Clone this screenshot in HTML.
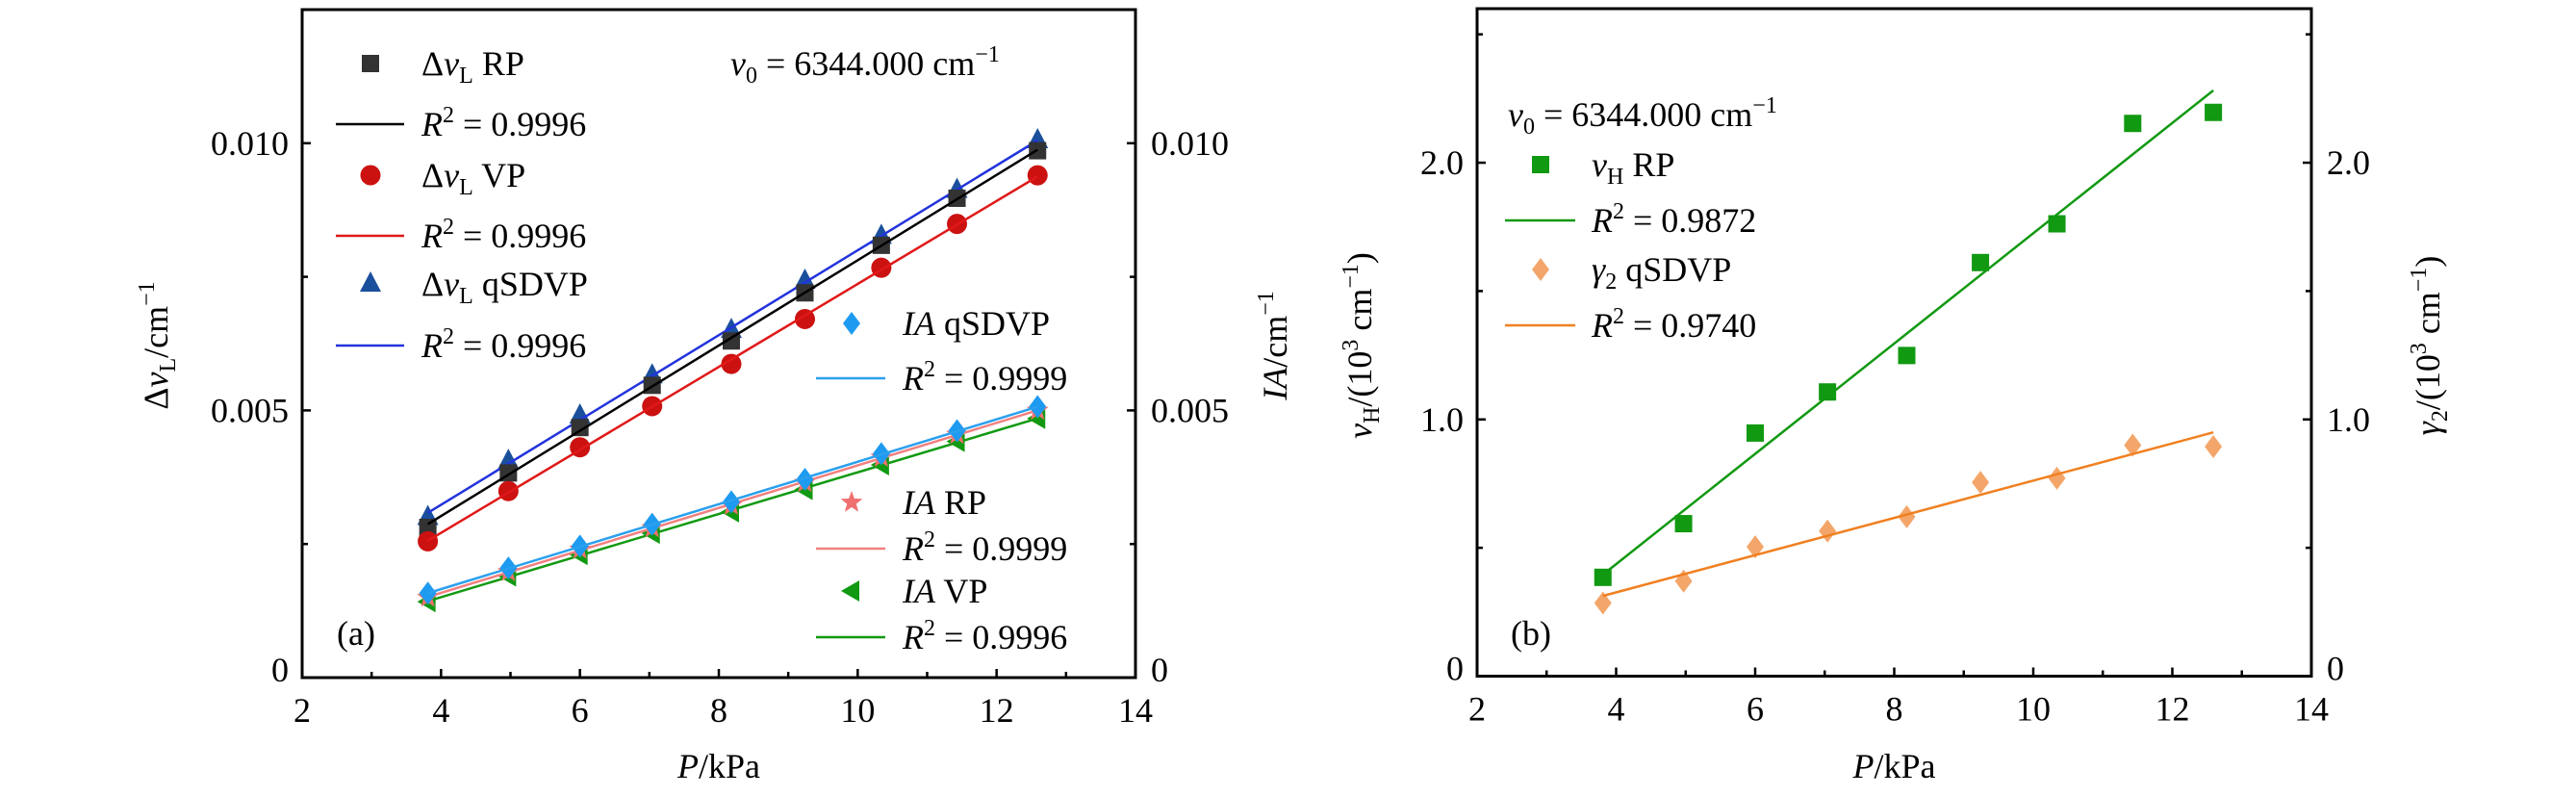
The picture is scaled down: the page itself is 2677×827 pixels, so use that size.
<!DOCTYPE html>
<html><head><meta charset="utf-8"><style>
html,body{margin:0;padding:0;background:#fff;}
svg{display:block;font-family:"Liberation Serif",serif;}
text{font-size:36px;fill:#000;}
</style></head><body>
<svg id="chart" width="2677" height="827" viewBox="0 0 2677 827" xmlns="http://www.w3.org/2000/svg"></svg>
<script>
const pressures = [3.81, 4.97, 6.0, 7.04, 8.18, 9.24, 10.34, 11.43, 12.59];
const dnuRP = [0.00281, 0.00383, 0.00468, 0.00547, 0.00630, 0.00720, 0.00809, 0.00897, 0.00986];
const dnuVP = [0.00255, 0.00349, 0.00431, 0.00508, 0.00587, 0.00671, 0.00767, 0.00849, 0.00940];
const dnuQS = [0.00300, 0.00405, 0.00490, 0.00565, 0.00650, 0.00742, 0.00826, 0.00912, 0.01005];
const iaQS = [0.00158, 0.00205, 0.00246, 0.00287, 0.00329, 0.00371, 0.00419, 0.00462, 0.00507];
const iaRP = [0.00150, 0.00198, 0.00240, 0.00280, 0.00322, 0.00365, 0.00412, 0.00455, 0.00500];
const iaVP = [0.00142, 0.00190, 0.00230, 0.00270, 0.00310, 0.00352, 0.00398, 0.00442, 0.00485];
const nuH = [0.385, 0.594, 0.947, 1.107, 1.249, 1.611, 1.762, 2.153, 2.196];
const gamma2 = [0.285, 0.370, 0.504, 0.565, 0.621, 0.755, 0.771, 0.900, 0.894];
const xTicks = [2, 4, 6, 8, 10, 12, 14];
const yTicksA = [0, 0.005, 0.010];
const yTickLabelsA = ["0", "0.005", "0.010"];
const yTicksB = [0, 1.0, 2.0];
const yTickLabelsB = ["0", "1.0", "2.0"];

const NS = "http://www.w3.org/2000/svg";
const svg = document.getElementById('chart');
function mk(tag, attrs, parent) {
  const e = document.createElementNS(NS, tag);
  for (const k in attrs) e.setAttribute(k, attrs[k]);
  (parent || svg).appendChild(e);
  return e;
}
function fit(xs, ys) {
  const n = xs.length; let sx=0, sy=0, sxx=0, sxy=0;
  for (let i=0;i<n;i++){sx+=xs[i];sy+=ys[i];sxx+=xs[i]*xs[i];sxy+=xs[i]*ys[i];}
  const b=(n*sxy-sx*sy)/(n*sxx-sx*sx); return {b:b, a:(sy-b*sx)/n};
}
const panelA = {L:314, R:1180, T:10, B:704, ymax:0.0125};
const panelB = {L:1535, R:2402, T:9, B:702.5, ymax:2.6};
function xs(p, v){ return p.L + (v-2)/12*(p.R-p.L); }
function ys(p, v){ return p.B - v/p.ymax*(p.B-p.T); }

function axes(p, yTicks, yLabels, minorStep, tag) {
  const g = mk('g', {});
  
  
  const fr = mk('rect', {x:p.L, y:p.T, width:p.R-p.L, height:p.B-p.T, fill:'none', stroke:'#000', 'stroke-width':3}, g);
  
  
  for (let v=2; v<=14; v+=1) {
    const x = xs(p, v), len = (v%2===0)?9:6;
    mk('line', {x1:x, x2:x, y1:p.B, y2:p.B-len, stroke:'#000', 'stroke-width':2.5}, g);
  }
  xTicks.forEach(v => {
    const t = mk('text', {x:xs(p,v), y:p.B+46, 'text-anchor':'middle'}, g);
    t.textContent = v;
    
    
  });
  for (let v=0; v<=p.ymax+1e-9; v+=minorStep) {
    const y = ys(p, v);
    const major = yTicks.some(t => Math.abs(t-v)<1e-9);
    const len = major?9:6;
    mk('line', {x1:p.L, x2:p.L+len, y1:y, y2:y, stroke:'#000', 'stroke-width':2.5}, g);
    mk('line', {x1:p.R, x2:p.R-len, y1:y, y2:y, stroke:'#000', 'stroke-width':2.5}, g);
  }
  yTicks.forEach((v,i) => {
    const y = ys(p, v) + (v===0 ? 4 : 12);
    const t1 = mk('text', {x:p.L-14, y:y, 'text-anchor':'end'}, g);
    t1.textContent = yLabels[i];
    
    
    const t2 = mk('text', {x:p.R+16, y:y, 'text-anchor':'start'}, g);
    t2.textContent = yLabels[i];
    
    
  });
  const xt = mk('text', {x:(p.L+p.R)/2, y:808, 'text-anchor':'middle'}, g);
  xt.innerHTML = '<tspan font-style="italic">P</tspan>/kPa';
  
  
}

function marker(shape, x, y, color, g) {
  let e;
  if (shape==='square') e = mk('rect', {x:x-9, y:y-9, width:18, height:18, fill:color}, g);
  else if (shape==='circle') e = mk('circle', {cx:x, cy:y, r:10.5, fill:color}, g);
  else if (shape==='triangle') e = mk('polygon', {points:`${x},${y-13} ${x-11},${y+8} ${x+11},${y+8}`, fill:color}, g);
  else if (shape==='diamond') e = mk('polygon', {points:`${x},${y-12} ${x+9},${y} ${x},${y+12} ${x-9},${y}`, fill:color}, g);
  else if (shape==='left') e = mk('polygon', {points:`${x-11},${y} ${x+8},${y-11} ${x+8},${y+11}`, fill:color}, g);
  else if (shape==='star') {
    let pts=[]; for (let k=0;k<10;k++){const r=k%2?5:12; const a=-Math.PI/2+k*Math.PI/5; pts.push((x+r*Math.cos(a)).toFixed(1)+','+(y+r*Math.sin(a)).toFixed(1));}
    e = mk('polygon', {points:pts.join(' '), fill:color}, g);
  }
  return e;
}
function series(p, vals, shape, mcol, lcol, tag) {
  const g = mk('g', {});
  
  
  const f = fit(pressures, vals);
  const x0 = pressures[0], x1 = pressures[pressures.length-1];
  pressures.forEach((pv,i) => {
    const m = marker(shape, xs(p,pv), ys(p,vals[i]), mcol, g);
    
    
  });
  const ln = mk('line', {x1:xs(p,x0), y1:ys(p,f.a+f.b*x0), x2:xs(p,x1), y2:ys(p,f.a+f.b*x1), stroke:lcol, 'stroke-width':2.5}, g);
  
  
}
function legendMarker(shape, x, y, color, label, tx) {
  const m = marker(shape, x, y, color);
  
  
  const t = mk('text', {x:tx, y:y+12});
  t.innerHTML = label;
  
  
}
function legendLine(x1, x2, y, color, label, tx) {
  const l = mk('line', {x1:x1, x2:x2, y1:y, y2:y, stroke:color, 'stroke-width':2.5});
  
  
  const t = mk('text', {x:tx, y:y+12});
  t.innerHTML = label;
  
  
}
const R2 = v => `<tspan font-style="italic">R</tspan><tspan font-size="24" dy="-14">2</tspan><tspan dy="14"> = ${v}</tspan>`;
const DNU = s => `Δ<tspan font-style="italic">ν</tspan><tspan font-size="24" dy="8">L</tspan><tspan dy="-8"> ${s}</tspan>`;

// Panel A
axes(panelA, yTicksA, yTickLabelsA, 0.0025, 'a');
series(panelA, dnuQS, 'triangle', '#1a4f9c', '#2233dd', 'dnu-qsdvp');
series(panelA, dnuRP, 'square', '#333333', '#000000', 'dnu-rp');
series(panelA, dnuVP, 'circle', '#cc1111', '#e01818', 'dnu-vp');
series(panelA, iaVP, 'left', '#119911', '#119911', 'ia-vp');
series(panelA, iaRP, 'star', '#f07070', '#f08080', 'ia-rp');
series(panelA, iaQS, 'diamond', '#1e9af0', '#2aa0ee', 'ia-qsdvp');

legendMarker('square', 385, 66, '#333333', DNU('RP'), 438);
legendLine(349, 420, 129, '#000', R2('0.9996'), 438);
legendMarker('circle', 385, 182, '#cc1111', DNU('VP'), 438);
legendLine(349, 420, 245, '#e01818', R2('0.9996'), 438);
legendMarker('triangle', 385, 295, '#1a4f9c', DNU('qSDVP'), 438);
legendLine(349, 420, 359, '#2233dd', R2('0.9996'), 438);
legendMarker('diamond', 885, 336, '#1e9af0', '<tspan font-style="italic">IA</tspan> qSDVP', 938);
legendLine(848, 920, 393, '#2aa0ee', R2('0.9999'), 938);
legendMarker('star', 885, 522, '#f07070', '<tspan font-style="italic">IA</tspan> RP', 938);
legendLine(848, 920, 570, '#f08080', R2('0.9999'), 938);
legendMarker('left', 885, 614, '#119911', '<tspan font-style="italic">IA</tspan> VP', 938);
legendLine(848, 920, 662, '#119911', R2('0.9996'), 938);

let t = mk('text', {x:759, y:78});
t.innerHTML = '<tspan font-style="italic">ν</tspan><tspan font-size="24" dy="8">0</tspan><tspan dy="-8"> = 6344.000 cm</tspan><tspan font-size="24" dy="-14">−1</tspan>';


t = mk('text', {x:350, y:670});
t.textContent = '(a)';


t = mk('text', {x:0, y:0, transform:'translate(174,359) rotate(-90)', 'text-anchor':'middle'});
t.innerHTML = 'Δ<tspan font-style="italic">ν</tspan><tspan font-size="24" dy="8">L</tspan><tspan dy="-8">/cm</tspan><tspan font-size="24" dy="-14">−1</tspan>';


t = mk('text', {x:0, y:0, transform:'translate(1337,359) rotate(-90)', 'text-anchor':'middle'});
t.innerHTML = '<tspan font-style="italic">IA</tspan>/cm<tspan font-size="24" dy="-14">−1</tspan>';



// Panel B
axes(panelB, yTicksB, yTickLabelsB, 0.5, 'b');
series(panelB, nuH, 'square', '#119911', '#119911', 'nuh-rp');
series(panelB, gamma2, 'diamond', '#f4a66a', '#f08020', 'gamma2-qsdvp');
t = mk('text', {x:1567, y:131});
t.innerHTML = '<tspan font-style="italic">ν</tspan><tspan font-size="24" dy="8">0</tspan><tspan dy="-8"> = 6344.000 cm</tspan><tspan font-size="24" dy="-14">−1</tspan>';


legendMarker('square', 1601, 171, '#119911', '<tspan font-style="italic">ν</tspan><tspan font-size="24" dy="8">H</tspan><tspan dy="-8"> RP</tspan>', 1654);
legendLine(1564, 1637, 229, '#119911', R2('0.9872'), 1654);
legendMarker('diamond', 1601, 280, '#f4a66a', '<tspan font-style="italic">γ</tspan><tspan font-size="24" dy="8">2</tspan><tspan dy="-8"> qSDVP</tspan>', 1654);
legendLine(1564, 1637, 338, '#f08020', R2('0.9740'), 1654);
t = mk('text', {x:1570, y:670});
t.textContent = '(b)';


t = mk('text', {x:0, y:0, transform:'translate(1425,359) rotate(-90)', 'text-anchor':'middle'});
t.innerHTML = '<tspan font-style="italic">ν</tspan><tspan font-size="24" dy="8">H</tspan><tspan dy="-8">/(10</tspan><tspan font-size="24" dy="-14">3</tspan><tspan dy="14"> cm</tspan><tspan font-size="24" dy="-14">−1</tspan><tspan dy="14">)</tspan>';


t = mk('text', {x:0, y:0, transform:'translate(2535,359) rotate(-90)', 'text-anchor':'middle'});
t.innerHTML = '<tspan font-style="italic">γ</tspan><tspan font-size="24" dy="8">2</tspan><tspan dy="-8">/(10</tspan><tspan font-size="24" dy="-14">3</tspan><tspan dy="14"> cm</tspan><tspan font-size="24" dy="-14">−1</tspan><tspan dy="14">)</tspan>';


</script>
</body></html>
